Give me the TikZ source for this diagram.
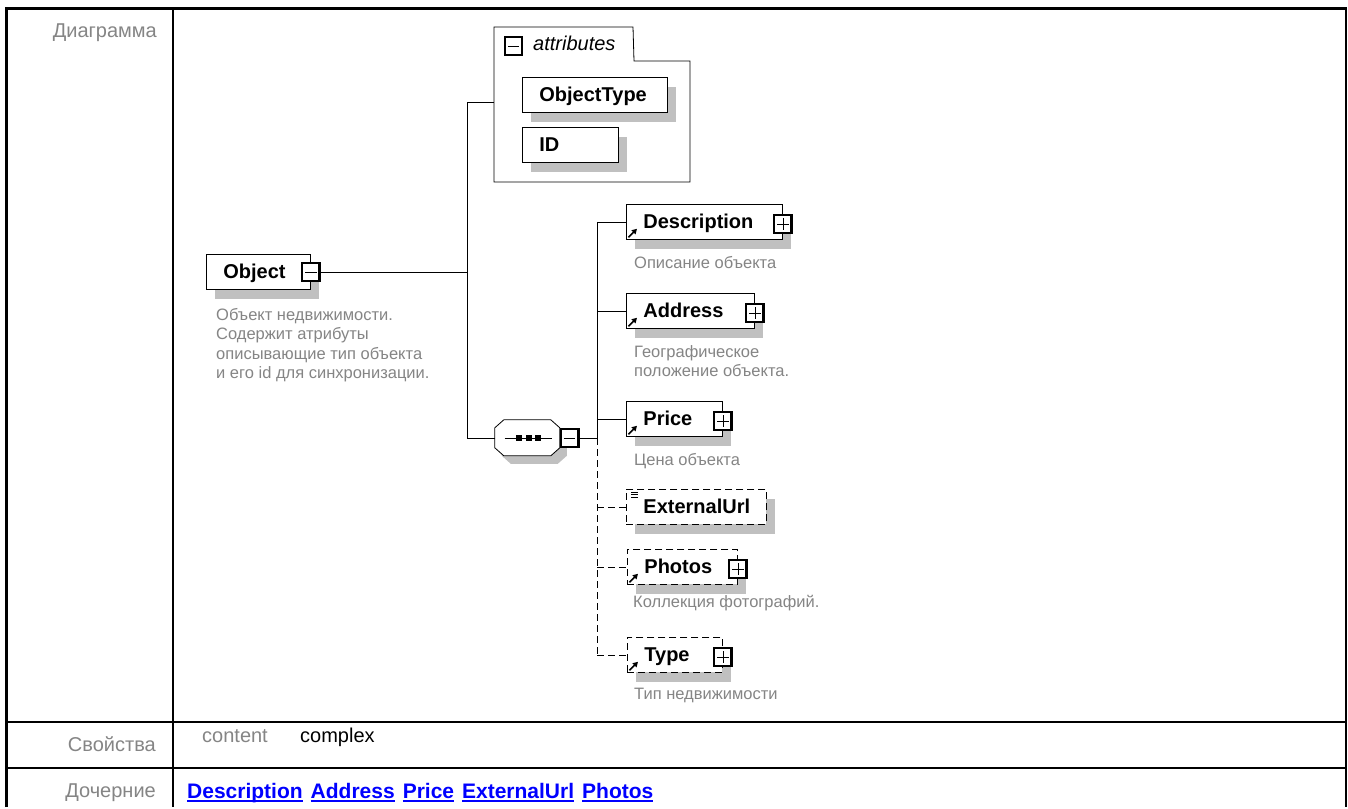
\documentclass[tikz,border=0pt]{standalone}
\usepackage{fontspec}
\setmainfont{Liberation Sans}
\usetikzlibrary{shadows,arrows.meta}
\definecolor{txtgray}{HTML}{858585}
\definecolor{shadowgray}{HTML}{C0C0C0}
\definecolor{linkblue}{HTML}{0000FF}
\newcommand\lnk[1]{\leavevmode\vtop{\setbox0\hbox{#1}\dp0=2pt \box0 \hrule height 1.6pt}}

\begin{document}
\begin{tikzpicture}[x=1pt,y=-1pt,
    elem/.style={draw,fill=white,line width=0.8pt,anchor=north west,
      minimum height=35pt,inner xsep=17pt,inner ysep=0pt,align=left,text width=#1,
      text height=14pt,text depth=0pt,font=\fontsize{20}{20}\selectfont\bfseries,
      general shadow={fill=shadowgray,shadow xshift=9pt,shadow yshift=-10pt}},
    optelem/.style={elem=#1,dash pattern=on 7pt off 4pt},
    xbox/.style={draw,fill=white,line width=2.2pt,minimum size=17.5pt,inner sep=0pt},
    minusbox/.style={xbox,path picture={\draw[line width=0.6pt]
      ([xshift=3pt]path picture bounding box.west) -- ([xshift=-3pt]path picture bounding box.east);}},
    plusbox/.style={xbox,path picture={\draw[line width=0.6pt]
      ([xshift=3pt]path picture bounding box.west) -- ([xshift=-3pt]path picture bounding box.east)
      ([yshift=-3pt]path picture bounding box.north) -- ([yshift=3pt]path picture bounding box.south);}},
    seqbox/.style={minimum width=65pt,minimum height=36pt,inner sep=0pt},
    desc/.style={anchor=north west,inner sep=0pt,align=left,text=txtgray,
      font=\fontsize{16.5}{19.5}\selectfont},
    lbl/.style={anchor=base east,inner sep=0pt,text=txtgray,font=\fontsize{20}{20}\selectfont},
    conn/.style={line width=0.8pt},
    optconn/.style={line width=0.8pt,dash pattern=on 7pt off 4pt}]

  \fill[white] (0,0) rectangle (1348,807);

  % table frame
  \draw[line width=2.6pt] (6.5,807) -- (6.5,8.5) -- (1346,8.5) -- (1346,807);
  \draw[line width=2.6pt] (173,8.5) -- (173,807) (6.5,722) -- (1346,722) (6.5,768) -- (1346,768);

  \node[lbl] (l-diag) at (157,37) {Диаграмма};
  \node[lbl] (l-prop) at (156,751) {Свойства};
  \node[lbl] (l-child) at (156,797) {Дочерние};
  \node[anchor=base west,inner sep=0pt,text=txtgray,font=\fontsize{20}{20}\selectfont] (p-key) at (202,742) {content};
  \node[anchor=base west,inner sep=0pt,font=\fontsize{20}{20}\selectfont] (p-val) at (300,742) {complex};
  \node[anchor=base west,inner sep=0pt,text=linkblue,font=\fontsize{21}{20}\selectfont\bfseries] (links) at (187,798)
    {\lnk{Description}\hspace{8pt}\lnk{Address}\hspace{8pt}\lnk{Price}\hspace{8pt}\lnk{ExternalUrl}\hspace{8pt}\lnk{Photos}};

  % root element
  \node[elem=70pt] (obj) at (206,254) {Object};
  \node[minusbox] (obj-x) at (obj.east) {};
  \node[desc] (obj-d) at (216,308) {Объект недвижимости.\\Содержит атрибуты\\описывающие тип объекта\\и его id для синхронизации.};

  % attributes group
  \draw[line width=0.8pt] (494,182) -- (494,27) -- (633,27) -- (634,61) -- (690,61) -- (690,182) -- cycle;
  \node[minusbox] (attr-x) at (513.5,46) {};
  \node[anchor=base west,inner sep=0pt,font=\fontsize{20}{20}\selectfont\itshape] (attr) at (533,50) {attributes};
  \node[elem=111pt] (otype) at (522,77) {ObjectType};
  \node[elem=62pt] (id) at (522,127) {ID};

  % sequence
  \node[seqbox] (seq) at (527.5,438) {};
  \fill[shadowgray] ([shift={(16,8)}]seq.north west) -- ([shift={(63,8)}]seq.north west)
    -- ([shift={(72,16)}]seq.north west) -- ([shift={(72,36)}]seq.north west)
    -- ([shift={(63,44)}]seq.north west) -- ([shift={(16,44)}]seq.north west)
    -- ([shift={(7,36)}]seq.north west) -- ([shift={(7,16)}]seq.north west) -- cycle;
  \filldraw[fill=white,line width=0.8pt] ([shift={(9,0)}]seq.north west) -- ([shift={(56,0)}]seq.north west)
    -- ([shift={(65,8)}]seq.north west) -- ([shift={(65,28)}]seq.north west)
    -- ([shift={(56,36)}]seq.north west) -- ([shift={(9,36)}]seq.north west)
    -- ([shift={(0,28)}]seq.north west) -- ([shift={(0,8)}]seq.north west) -- cycle;
  \draw[line width=0.8pt] ([xshift=-23pt]seq.center) -- ([xshift=24pt]seq.center);
  \foreach \dx in {-8.5,1,10.5}
    \fill ([xshift=\dx pt]seq.center) +(-3,-3) rectangle +(3,3);
  \node[minusbox] (seq-x) at ([xshift=9.5pt]seq.east) {};

  % children
  \node[elem=122pt] (desc) at (626,204) {Description};
  \node[elem=94pt] (addr) at (626,293) {Address};
  \node[elem=62pt] (price) at (626,401) {Price};
  \node[optelem=106pt] (ext) at (626,489) {ExternalUrl};
  \node[optelem=76pt] (photos) at (627,549) {Photos};
  \node[optelem=61pt] (type) at (627,637) {Type};

  \foreach \e in {desc,addr,price,photos,type}{
    \node[plusbox] (\e-x) at ([yshift=-2pt]\e.east) {};
    \draw[line width=1.6pt,-{Triangle[length=5pt,width=5.5pt]}] ([shift={(2.5,-2.5)}]\e.south west) -- ++(8.5,-8.5);
  }
  \foreach \k in {3,5.5,8}
    \draw[line width=0.6pt] ([shift={(5,\k)}]ext.north west) -- ++(7,0);

  \node[desc] (desc-d) at (634,256) {Описание объекта};
  \node[desc] (addr-d) at (634,345) {Географическое\\положение объекта.};
  \node[desc] (price-d) at (634,453) {Цена объекта};
  \node[desc] (photos-d) at (633,595) {Коллекция фотографий.};
  \node[desc] (type-d) at (634,688) {Тип недвижимости};

  % connectors
  \coordinate (t1) at (467,102);
  \coordinate (t2) at (467,438);
  \coordinate (attrw) at (494,102);
  \coordinate (rx) at (597,0);
  \draw[conn] (obj-x.east) -- (obj-x.east -| t1);
  \draw[conn] (t1) -- (t2);
  \draw[conn] (t1) -- (attrw);
  \draw[conn] (t2) -- (seq.west);
  \draw[conn] (seq-x.east) -- (seq-x.east -| rx);
  \draw[conn] (desc.west -| rx) -- (seq-x.east -| rx);
  \foreach \e in {desc,addr,price}
    \draw[conn] (\e.west -| rx) -- (\e.west);
  \draw[optconn] (seq-x.east -| rx) -- (type.west -| rx);
  \foreach \e in {ext,photos,type}
    \draw[optconn] (\e.west -| rx) -- (\e.west);
\end{tikzpicture}
\end{document}
